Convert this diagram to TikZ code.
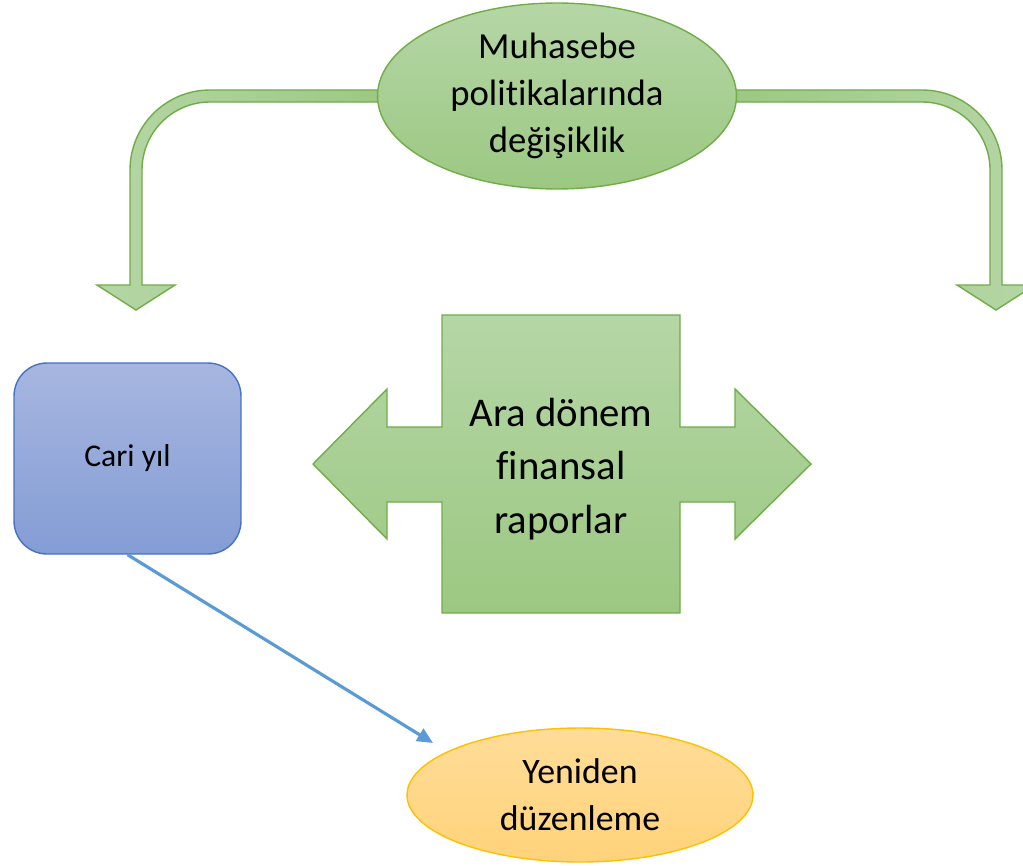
\documentclass[tikz,border=0pt]{standalone}
\usepackage{fontspec}
\setmainfont{Carlito}[Ligatures={NoCommon}]
\usetikzlibrary{shapes.geometric,arrows.meta}

\definecolor{grnline}{HTML}{70AD47}
\definecolor{grntop}{HTML}{B5D6A6}
\definecolor{grnbot}{HTML}{9CC882}
\definecolor{bluline}{HTML}{4472C4}
\definecolor{blutop}{HTML}{A7B6E0}
\definecolor{blubot}{HTML}{849DD5}
\definecolor{orgline}{HTML}{FFC000}
\definecolor{orgtop}{HTML}{FFDC98}
\definecolor{orgbot}{HTML}{FFD37A}
\definecolor{arrblue}{HTML}{5B9BD5}

\begin{document}
\begin{tikzpicture}[
  x=0.02cm, y=0.02cm,
  grnshape/.style = {draw=grnline, line width=0.8pt, line join=miter,
                     top color=grntop, bottom color=grnbot},
  bendleft/.style = {draw=grnline, line width=0.8pt, line join=miter,
                     left color=grntop, right color=grnbot},
  bendright/.style= {draw=grnline, line width=0.8pt, line join=miter,
                     left color=grnbot, right color=grntop},
  polnode/.style  = {ellipse, grnshape, align=center, inner sep=0pt,
                     minimum width=7.18cm, minimum height=3.72cm,
                     font=\fontsize{20.9}{26.9}\selectfont},
  aranode/.style  = {align=center, inner sep=0pt,
                     font=\fontsize{23.2}{30.6}\selectfont},
  yilbox/.style   = {rectangle, rounded corners=0.66cm, draw=bluline,
                     line width=0.8pt, top color=blutop, bottom color=blubot,
                     minimum width=4.54cm, minimum height=3.82cm,
                     font=\fontsize{18}{22}\selectfont},
  duznode/.style  = {ellipse, draw=orgline, line width=0.8pt,
                     top color=orgtop, bottom color=orgbot,
                     align=center, inner sep=0pt,
                     minimum width=6.92cm, minimum height=2.68cm,
                     font=\fontsize{20.4}{26.6}\selectfont},
  blarr/.style    = {-{Triangle[length=9pt,width=8pt]}, line width=1.8pt, arrblue},
]

\useasboundingbox (0,0) rectangle (1023,-865);
\clip (0,0) rectangle (1023,-865);

%% bent arrows behind the top ellipse
\path[bendleft] (390,-90) -- (210,-90) arc (90:180:80) -- (130,-285)
  -- (97,-285) -- (136,-310) -- (175,-285) -- (142,-285) -- (142,-170)
  arc (180:90:68) -- (390,-102) -- cycle;

\path[bendright] (730,-90) -- (922,-90) arc (90:0:80) -- (1002,-285)
  -- (1035,-285) -- (996,-310) -- (957,-285) -- (990,-285) -- (990,-170)
  arc (0:90:68) -- (730,-102) -- cycle;

\node[polnode] (muhasebe) at (557,-96)
  {Muhasebe\\politikalarında\\değişiklik};

%% left-right arrow callout
\path[grnshape] (442,-315) -- (680,-315) -- (680,-427) -- (735,-427)
  -- (735,-389) -- (811,-464) -- (735,-539) -- (735,-502) -- (680,-502)
  -- (680,-613) -- (442,-613) -- (442,-502) -- (387,-502) -- (387,-539)
  -- (313,-464) -- (387,-389) -- (387,-427) -- (442,-427) -- cycle;

\node[aranode] (ara) at (561,-469)
  {Ara dönem\\finansal\\raporlar};

%% current year and restatement
\node[yilbox] (cari) at (127.5,-458.5) {Cari yıl};

\node[duznode] (yeniden) at (580,-795) {Yeniden\\düzenleme};

\coordinate (yenitip) at (433,-743);
\draw[blarr] (cari.south) -- (yenitip);

\end{tikzpicture}
\end{document}
